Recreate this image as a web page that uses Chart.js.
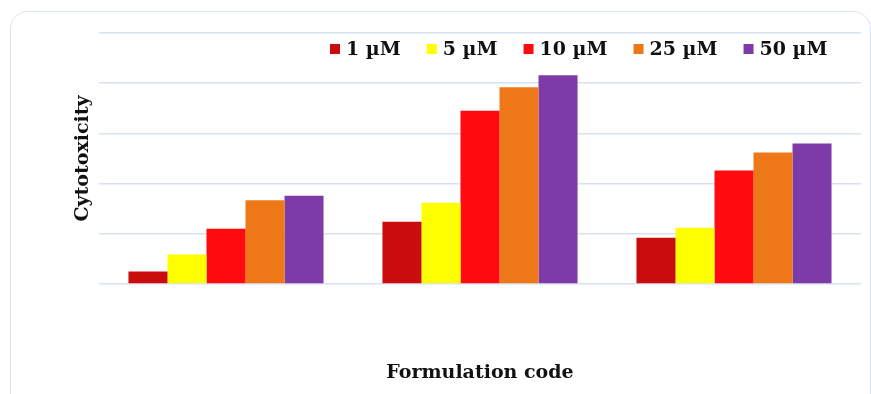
<!DOCTYPE html>
<html>
<head>
<meta charset="utf-8">
<script src="https://cdn.jsdelivr.net/npm/chart.js@4.4.1/dist/chart.umd.min.js"></script>
<style>
  html, body { margin: 0; padding: 0; background: #ffffff; overflow: hidden; }
  #wrap { position: relative; width: 871px; height: 394px; overflow: hidden; }
  #card { position: absolute; left: 10px; top: 11px; width: 861px; height: 400px; box-sizing: border-box;
          border: 1.5px solid #d8e3f4; border-radius: 18px; }
  #c { position: absolute; left: 0; top: 0; }
</style>
</head>
<body>
<div id="wrap">
  <div id="card"></div>
  <canvas id="c" width="871" height="394"></canvas>
</div>
<script>
// ---- data ----
const categories = ["F1", "F2", "F3"];
const seriesLabels = ["1 \u00b5M", "5 \u00b5M", "10 \u00b5M", "25 \u00b5M", "50 \u00b5M"];
const conc1uM  = [2.5, 12.4, 9.2];
const conc5uM  = [5.9, 16.2, 11.2];
const conc10uM = [11.0, 34.5, 22.6];
const conc25uM = [16.7, 39.2, 26.2];
const conc50uM = [17.6, 41.6, 28.0];
const yTitle = "Cytotoxicity";
const xTitle = "Formulation code";

const colors = ["#c90c0c", "#ffff00", "#ff0a0f", "#ee7818", "#7d3ba8"];
const seriesValues = [conc1uM, conc5uM, conc10uM, conc25uM, conc50uM];

const serif = "'DejaVu Serif', 'Liberation Serif', serif";

const legendPlugin = {
  id: 'overlayLegend',
  afterDraw(chart) {
    const ctx = chart.ctx;
    ctx.save();
    ctx.font = "bold 19px " + serif;
    ctx.textBaseline = 'middle';
    ctx.textAlign = 'left';
    let x = 330;
    const yMid = 49;
    chart.data.datasets.forEach((ds) => {
      ctx.fillStyle = ds.backgroundColor;
      ctx.fillRect(x, yMid - 5, 10, 10);
      ctx.fillStyle = '#111111';
      ctx.fillText(ds.label, x + 16, yMid + 1);
      x += 16 + ctx.measureText(ds.label).width + 26;
    });
    ctx.restore();
  }
};

new Chart(document.getElementById('c'), {
  type: 'bar',
  data: {
    labels: categories,
    datasets: seriesLabels.map((lab, i) => ({
      label: lab,
      data: seriesValues[i],
      backgroundColor: colors[i],
      borderWidth: 0,
      categoryPercentage: 0.768,
      barPercentage: 1.0
    }))
  },
  options: {
    responsive: false,
    animation: false,
    events: [],
    layout: { padding: { left: 0, right: 10, top: 33, bottom: 0 } },
    plugins: {
      legend: { display: false },
      tooltip: { enabled: false },
      title: { display: false }
    },
    scales: {
      x: {
        ticks: { display: false },
        grid: { display: false },
        border: { display: false },
        title: {
          display: true,
          text: xTitle,
          color: '#111111',
          font: { family: serif, size: 19, weight: 'bold' },
          padding: { top: 0, bottom: 10 }
        },
        afterFit: (scale) => { scale.height = 110; }
      },
      y: {
        min: 0,
        max: 50,
        ticks: { display: false, stepSize: 10 },
        grid: { color: '#d6e2f4', lineWidth: 1.5, drawTicks: false },
        border: { display: false },
        title: {
          display: true,
          text: yTitle,
          color: '#111111',
          font: { family: serif, size: 19, weight: 'bold' },
          padding: { top: 72, bottom: 0 }
        },
        afterFit: (scale) => { scale.width = 99; }
      }
    }
  },
  plugins: [legendPlugin]
});
</script>
</body>
</html>
